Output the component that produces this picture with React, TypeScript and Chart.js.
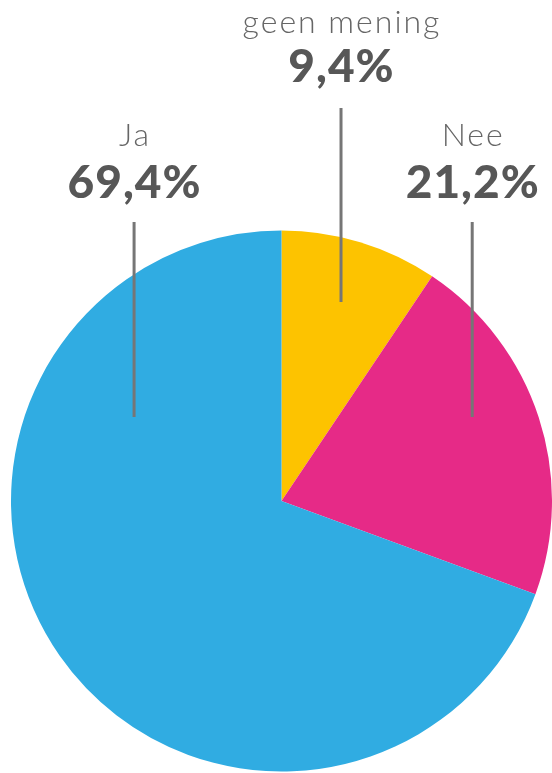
import React, { useEffect, useRef } from "react";
import { Chart, registerables } from "chart.js";

Chart.register(...registerables);

const categories = ["geen mening", "Nee", "Ja"];
const values = [9.4, 21.2, 69.4];
const valueLabels = ["9,4%", "21,2%", "69,4%"];
const colors = ["#FDC300", "#E62A87", "#30ACE2"];

// label placement relative to pie center (fractions of radius)
const labelLayout = [
  { fx: 0.22, nameY: 33, valY: 82, lineTop: 108, lineBottom: 302 },
  { fx: 0.705, nameY: 146, valY: 198, lineTop: 222, lineBottom: 417 },
  { fx: -0.545, nameY: 146, valY: 198, lineTop: 222, lineBottom: 417 },
];

const labelPlugin = {
  id: "callouts",
  afterDraw(chart: any) {
    const meta = chart.getDatasetMeta(0);
    const arc = meta.data[0];
    if (!arc) return;
    const { x: cx, outerRadius: r } = arc.getProps(["x", "outerRadius"], true);
    const ctx = chart.ctx;
    ctx.save();
    categories.forEach((name, i) => {
      const l = labelLayout[i];
      const x = cx + l.fx * r;
      ctx.strokeStyle = "#767676";
      ctx.lineWidth = 3;
      ctx.beginPath();
      ctx.moveTo(x, l.lineTop);
      ctx.lineTo(x, l.lineBottom);
      ctx.stroke();
      ctx.textAlign = "center";
      ctx.textBaseline = "alphabetic";
      ctx.fillStyle = "#666666";
      ctx.font = "300 32px Lato";
      (ctx as any).letterSpacing = "2px";
      ctx.fillText(name, x + 1, l.nameY);
      ctx.fillStyle = "#575757";
      ctx.font = "900 46px Lato";
      (ctx as any).letterSpacing = "1px";
      ctx.fillText(valueLabels[i], x + 0.5, l.valY);
    });
    ctx.restore();
  },
};

export default function App() {
  const ref = useRef<HTMLCanvasElement>(null);
  useEffect(() => {
    document.body.style.margin = "0";
    const chart = new Chart(ref.current!, {
      type: "pie",
      data: {
        labels: categories,
        datasets: [
          {
            data: values,
            backgroundColor: colors,
            borderWidth: 0,
          },
        ],
      },
      options: {
        animation: false,
        responsive: false,
        layout: { padding: { left: 11, right: 0, top: 230, bottom: 1 } },
        plugins: { legend: { display: false }, tooltip: { enabled: false } },
      },
      plugins: [labelPlugin],
    });
    return () => chart.destroy();
  }, []);
  return (
    <div style={{ position: "absolute", left: 0, top: 0, width: 552, height: 773, background: "#fff" }}>
      <canvas ref={ref} width={552} height={773} style={{ display: "block" }} />
    </div>
  );
}
